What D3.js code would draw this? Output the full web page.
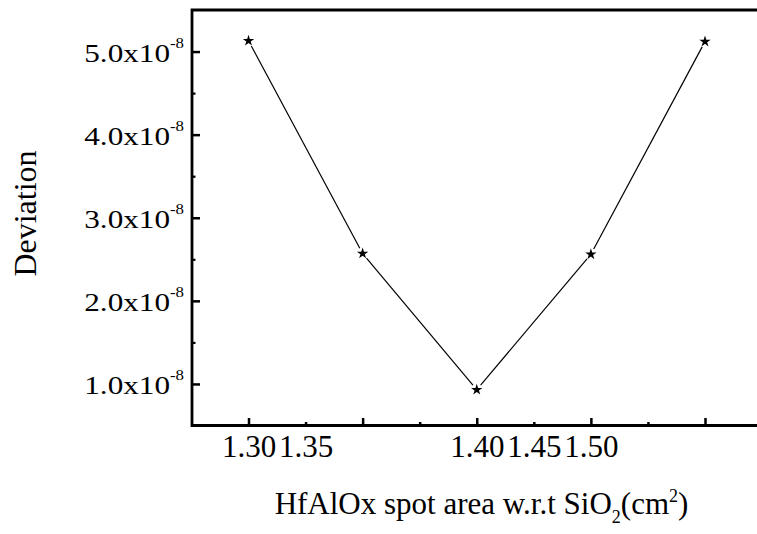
<!DOCTYPE html>
<html>
<head>
<meta charset="utf-8">
<script src="https://cdn.jsdelivr.net/npm/d3@7/dist/d3.min.js"></script>
<style>
  html, body { margin: 0; padding: 0; background: #fff; }
  svg { display: block; }
  text { font-family: "Liberation Serif", "Times New Roman", serif; fill: #000; }
</style>
</head>
<body>
<svg id="chart" width="757" height="534"></svg>
<script>
// Spot area (cm^2) and the measured deviation
const spotArea = [1.30, 1.35, 1.40, 1.45, 1.50];
const deviation = [5.13e-8, 2.57e-8, 0.93e-8, 2.56e-8, 5.12e-8];

// Axis ticks and their labels
const xMajorTicks = [1.30, 1.35, 1.40, 1.45, 1.50];
const xMinorTicks = [1.325, 1.375, 1.425, 1.475];
const xLabelAt = [1.30, 1.325, 1.40, 1.425, 1.45];
const xLabelText = ["1.30", "1.35", "1.40", "1.45", "1.50"];
const yMajorTicks = [1.0e-8, 2.0e-8, 3.0e-8, 4.0e-8, 5.0e-8];
const yMinorTicks = [1.5e-8, 2.5e-8, 3.5e-8, 4.5e-8];
const yLabelMantissa = ["1.0x10", "2.0x10", "3.0x10", "4.0x10", "5.0x10"];
const yLabelExponent = "-8";

const svg = d3.select("#chart");
const plotLeft = 192, plotTop = 10, plotBottom = 425.5, plotRight = 800;

const x = d3.scaleLinear().domain([1.30, 1.50]).range([248.5, 705]);
const y = d3.scaleLinear().domain([0.5e-8, 5.5e-8]).range([plotBottom, plotTop]);

// frame (right side runs past the view)
svg.append("path")
  .attr("d", `M${plotRight},${plotTop}H${plotLeft}V${plotBottom}H${plotRight}`)
  .attr("fill", "none").attr("stroke", "#000").attr("stroke-width", 2.8);

// x ticks (inward)
const gx = svg.append("g").attr("transform", `translate(0,${plotBottom})`);
gx.call(d3.axisBottom(x).tickValues(xMajorTicks).tickSize(-7.5).tickFormat(""))
  .call(g => g.select(".domain").remove())
  .call(g => g.selectAll("line").attr("stroke-width", 2.5));
gx.append("g").call(d3.axisBottom(x).tickValues(xMinorTicks).tickSize(-3.5).tickFormat(""))
  .call(g => g.select(".domain").remove())
  .call(g => g.selectAll("line").attr("stroke-width", 2.5));
gx.append("g")
  .call(d3.axisBottom(x).tickValues(xLabelAt).tickSize(0).tickFormat((d, i) => xLabelText[i]))
  .call(g => g.select(".domain").remove())
  .call(g => g.selectAll("text")
    .attr("y", 31.5).attr("dy", null)
    .attr("font-size", 31).attr("font-family", "Liberation Serif").attr("fill", "#000"));

// y ticks (inward)
const gy = svg.append("g").attr("transform", `translate(${plotLeft},0)`);
gy.call(d3.axisLeft(y).tickValues(yMinorTicks).tickSize(-3.5).tickFormat(""))
  .call(g => g.select(".domain").remove())
  .call(g => g.selectAll("line").attr("stroke-width", 2.2));
gy.append("g")
  .call(d3.axisLeft(y).tickValues(yMajorTicks).tickSize(-8).tickFormat((d, i) => yLabelMantissa[i]))
  .call(g => g.select(".domain").remove())
  .call(g => g.selectAll("line").attr("stroke-width", 2.5))
  .call(g => g.selectAll("text")
    .attr("x", -8 / 1.2).attr("y", 10).attr("dy", null)
    .attr("text-anchor", "end")
    .attr("transform", "scale(1.2,1)")
    .attr("font-size", 26).attr("font-family", "Liberation Serif").attr("fill", "#000")
    .append("tspan").attr("font-size", 14).attr("dy", -14).text(yLabelExponent));

// connecting line, broken just short of each marker
const pts = spotArea.map((v, i) => [x(v), y(deviation[i])]);
const gap = 6;
const segs = d3.pairs(pts).map(([a, b]) => {
  const dx = b[0] - a[0], dy = b[1] - a[1], L = Math.hypot(dx, dy);
  return [[a[0] + dx / L * gap, a[1] + dy / L * gap], [b[0] - dx / L * gap, b[1] - dy / L * gap]];
});
svg.append("g").selectAll("path").data(segs).join("path")
  .attr("d", d3.line())
  .attr("fill", "none").attr("stroke", "#000").attr("stroke-width", 1.2);

// star markers
svg.append("g").selectAll("path").data(pts).join("path")
  .attr("transform", d => `translate(${d[0]},${d[1]})`)
  .attr("d", d3.symbol(d3.symbolStar, 40))
  .attr("fill", "#000");

// axis titles
svg.append("text")
  .attr("transform", "translate(36,213.5) rotate(-90)")
  .attr("text-anchor", "middle").attr("font-size", 32)
  .text("Deviation");

const xt = svg.append("text")
  .attr("x", 481.5).attr("y", 514)
  .attr("text-anchor", "middle").attr("font-size", 31);
xt.append("tspan").text("HfAlOx spot area w.r.t SiO");
xt.append("tspan").attr("font-size", 18).attr("dy", 9).text("2");
xt.append("tspan").attr("dy", -9).text("(cm");
xt.append("tspan").attr("font-size", 18).attr("dy", -12).text("2");
xt.append("tspan").attr("dy", 12).text(")");
</script>
</body>
</html>
